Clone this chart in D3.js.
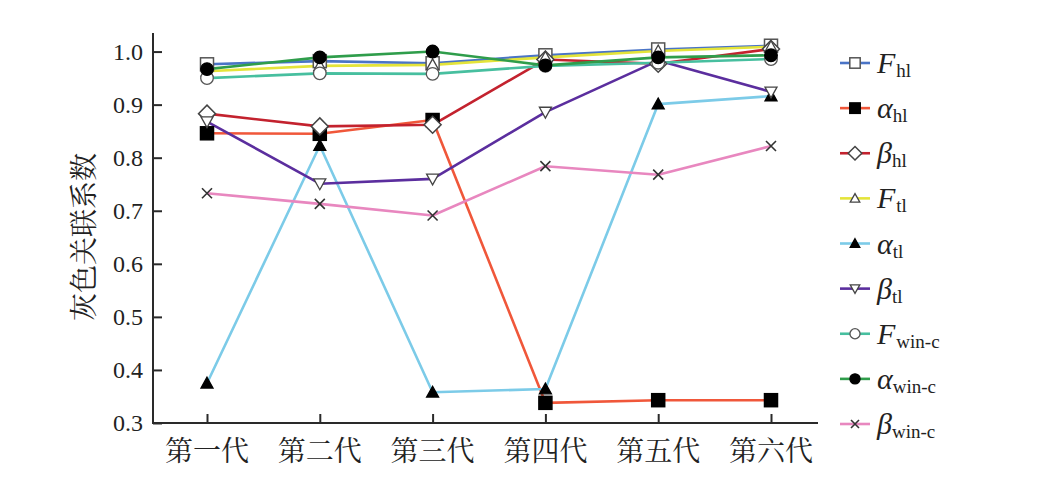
<!DOCTYPE html>
<html><head><meta charset="utf-8">
<script src="https://cdn.jsdelivr.net/npm/d3@7"></script>
<style>body{margin:0;background:#fff}</style>
</head><body><svg id="c" width="1050" height="480"></svg>
<script>
const categories = ["第一代","第二代","第三代","第四代","第五代","第六代"];
const yTicks = [0.3,0.4,0.5,0.6,0.7,0.8,0.9,1.0];
const seriesNames = ["F_hl","α_hl","β_hl","F_tl","α_tl","β_tl","F_win-c","α_win-c","β_win-c"];
const F_hl    = [0.976, 0.982, 0.978, 0.993, 1.004, 1.011];
const a_hl    = [0.846, 0.845, 0.871, 0.338, 0.343, 0.343];
const b_hl    = [0.883, 0.859, 0.862, 0.985, 0.977, 1.005];
const F_tl    = [0.963, 0.973, 0.975, 0.989, 1.001, 1.009];
const a_tl    = [0.375, 0.823, 0.358, 0.364, 0.901, 0.916];
const b_tl    = [0.868, 0.751, 0.760, 0.886, 0.983, 0.924];
const F_winc  = [0.950, 0.959, 0.958, 0.973, 0.979, 0.986];
const a_winc  = [0.967, 0.989, 1.000, 0.974, 0.989, 0.993];
const b_winc  = [0.733, 0.713, 0.691, 0.784, 0.768, 0.822];

const series = [
  {base:"F", sub:"hl", vals:F_hl, color:"#4a74c6", marker:"square", fill:"#fff"},
  {base:"α", sub:"hl", vals:a_hl, color:"#f0573a", marker:"square", fill:"#000"},
  {base:"β", sub:"hl", vals:b_hl, color:"#c3222e", marker:"diamond", fill:"#fff"},
  {base:"F", sub:"tl", vals:F_tl, color:"#e4e43a", marker:"triangle", fill:"#fff"},
  {base:"α", sub:"tl", vals:a_tl, color:"#7ccbe8", marker:"triangle", fill:"#000"},
  {base:"β", sub:"tl", vals:b_tl, color:"#5b2e9e", marker:"triangleDown", fill:"#fff"},
  {base:"F", sub:"win-c", vals:F_winc, color:"#47bf9f", marker:"circle", fill:"#fff"},
  {base:"α", sub:"win-c", vals:a_winc, color:"#2f9d4b", marker:"circle", fill:"#000"},
  {base:"β", sub:"win-c", vals:b_winc, color:"#e887bf", marker:"cross", fill:"none"}
];

const svg = d3.select("#c");
const x = d3.scalePoint().domain(categories).range([207, 771]);
const y = d3.scaleLinear().domain([0.3, 1.035]).range([423, 33]);
const axisColor = "#2a2a2a";

// axes
const gy = svg.append("g").attr("transform","translate(153,0)")
  .call(d3.axisRight(y).tickValues(yTicks).tickSize(9).tickFormat(""));
gy.select(".domain").remove();
gy.selectAll("line").attr("stroke",axisColor).attr("stroke-width",2);
svg.append("line").attr("x1",153).attr("x2",153).attr("y1",y(1.035)).attr("y2",y(0.3)+1)
  .attr("stroke",axisColor).attr("stroke-width",2);
svg.selectAll(".ylab").data(yTicks).enter().append("text")
  .attr("x",143).attr("y",d=>y(d)).attr("dy","0.35em").attr("text-anchor","end")
  .attr("font-family","Liberation Serif").attr("font-size",24).attr("fill","#222")
  .text(d=>d.toFixed(1));

const gx = svg.append("g").attr("transform","translate(0,"+y(0.3)+")")
  .call(d3.axisTop(x).tickSize(9).tickFormat(""));
gx.select(".domain").remove();
gx.selectAll("line").attr("stroke",axisColor).attr("stroke-width",2);
svg.append("line").attr("x1",152).attr("x2",818).attr("y1",y(0.3)).attr("y2",y(0.3))
  .attr("stroke",axisColor).attr("stroke-width",2);
svg.selectAll(".xlab").data(categories).enter().append("text")
  .attr("x",d=>x(d)).attr("y",451).attr("dy","0.35em").attr("text-anchor","middle")
  .attr("font-family","Noto Serif CJK SC, Noto Sans CJK SC").attr("font-size",28).attr("fill","#222")
  .text(d=>d);

svg.append("text").attr("transform","translate(84,237) rotate(-90)")
  .attr("text-anchor","middle").attr("dy","0.35em")
  .attr("font-family","Noto Serif CJK SC, Noto Sans CJK SC").attr("font-size",28).attr("fill","#222")
  .text("灰色关联系数");

function drawMarker(g, type, cx, cy, fill, scale) {
  const s = scale || 1;
  if (type==="square") {
    const h = 6.5*s;
    g.append("rect").attr("x",cx-h).attr("y",cy-h).attr("width",2*h).attr("height",2*h)
      .attr("fill",fill).attr("stroke", fill==="#000" ? "#000" : "#555").attr("stroke-width",1.5);
  } else if (type==="diamond") {
    const h = 8.5*s;
    g.append("path").attr("d",`M${cx},${cy-h}L${cx+h},${cy}L${cx},${cy+h}L${cx-h},${cy}Z`)
      .attr("fill",fill).attr("stroke","#444").attr("stroke-width",1.5);
  } else if (type==="triangle") {
    const h = 6*s;
    g.append("path").attr("d",`M${cx},${cy-h}L${cx+h},${cy+h*0.8}L${cx-h},${cy+h*0.8}Z`)
      .attr("fill",fill).attr("stroke", fill==="#000" ? "#000" : "#444").attr("stroke-width",1.3);
  } else if (type==="triangleDown") {
    const h = 6*s;
    g.append("path").attr("d",`M${cx},${cy+h}L${cx+h},${cy-h*0.8}L${cx-h},${cy-h*0.8}Z`)
      .attr("fill",fill).attr("stroke","#444").attr("stroke-width",1.3);
  } else if (type==="circle") {
    g.append("circle").attr("cx",cx).attr("cy",cy).attr("r",6.3*s)
      .attr("fill",fill).attr("stroke", fill==="#000" ? "#000" : "#555").attr("stroke-width",1.3);
  } else if (type==="cross") {
    const h = 5*s;
    g.append("path").attr("d",`M${cx-h},${cy-h}L${cx+h},${cy+h}M${cx-h},${cy+h}L${cx+h},${cy-h}`)
      .attr("stroke","#333").attr("stroke-width",1.6).attr("fill","none");
  }
}

const line = d3.line().x((d,i)=>x(categories[i])).y(d=>y(d));
series.forEach(s=>{
  svg.append("path").datum(s.vals).attr("d",line).attr("fill","none")
    .attr("stroke",s.color).attr("stroke-width",2.6).attr("stroke-linejoin","round");
});
series.forEach(s=>{
  const g = svg.append("g");
  s.vals.forEach((v,i)=>drawMarker(g, s.marker, x(categories[i]), y(v), s.fill, 1));
});

// legend
const ly = d3.scalePoint().domain(d3.range(series.length)).range([63, 424]);
series.forEach((s,i)=>{
  const cy = ly(i);
  const g = svg.append("g");
  g.append("line").attr("x1",840).attr("x2",870).attr("y1",cy).attr("y2",cy)
    .attr("stroke",s.color).attr("stroke-width",2.6);
  drawMarker(g, s.marker, 855, cy, s.fill, 0.8);
  const t = g.append("text").attr("x",877).attr("y",cy+10)
    .attr("font-family","Liberation Serif").attr("fill","#222");
  t.append("tspan").attr("font-style","italic").attr("font-size",30).text(s.base);
  t.append("tspan").attr("font-size",19).attr("dy",4).attr("dx",s.base==="F"?1:0).text(s.sub);
});
</script></body></html>
